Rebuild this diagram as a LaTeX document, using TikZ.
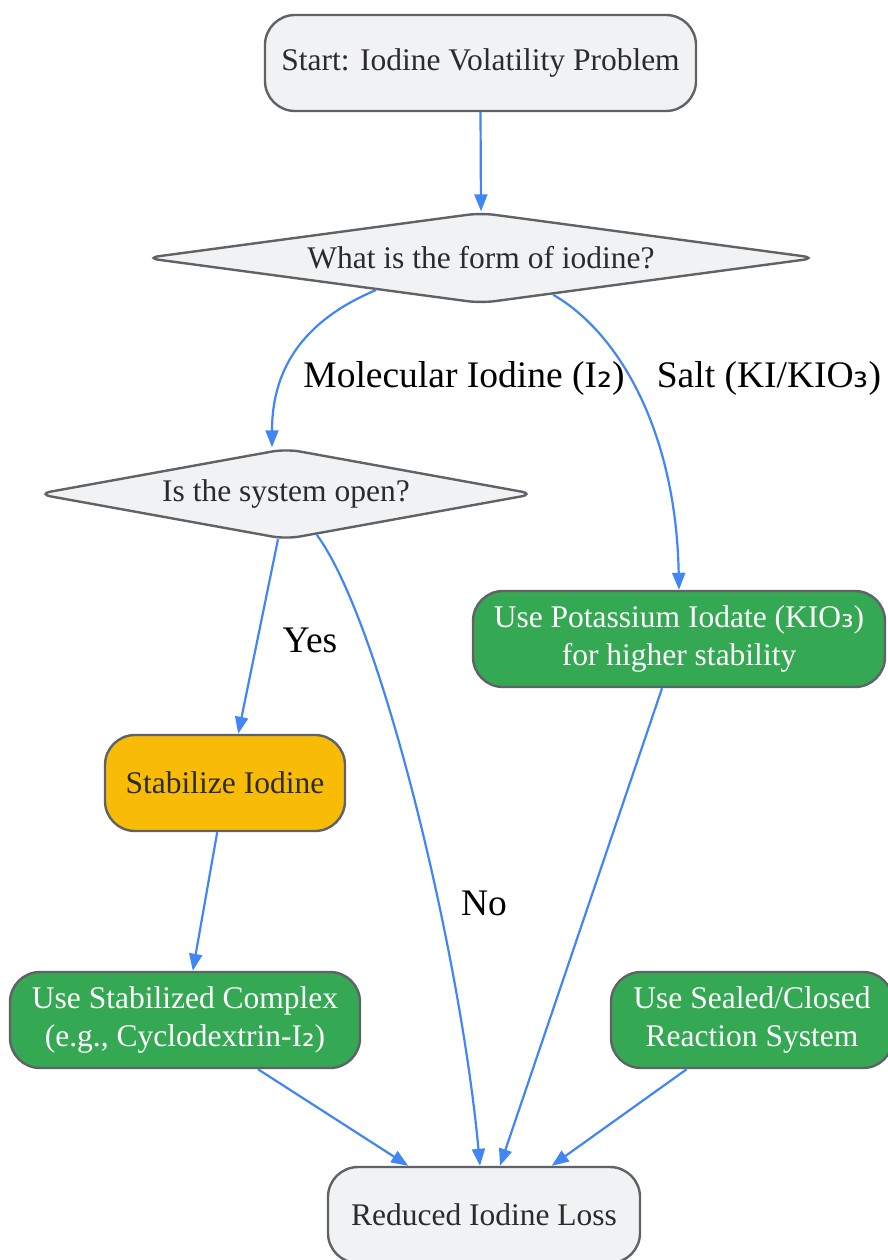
\documentclass[tikz,border=0pt]{standalone}
\usepackage{fontspec}
\setmainfont{Liberation Serif}
\newfontfamily\subfont{DejaVu Sans}
\usetikzlibrary{shapes.geometric,arrows.meta}
\definecolor{flowgray}{HTML}{F1F2F4}
\definecolor{rimgray}{HTML}{5F6368}
\definecolor{okgreen}{HTML}{34A853}
\definecolor{warnyellow}{HTML}{F9BC06}
\definecolor{linkblue}{HTML}{4285F4}
\definecolor{inktext}{HTML}{2B2B2B}
\newcommand{\subd}[1]{{\subfont #1}}

\tikzset{
  box/.style={draw=rimgray, line width=2.4pt, rounded corners=30pt, fill=flowgray, text=inktext,
    font=\fontsize{31.5}{38}\selectfont, align=center, minimum height=96pt, inner sep=0pt},
  okbox/.style={box, fill=okgreen, text=white},
  warnbox/.style={box, fill=warnyellow},
  ask/.style={diamond, draw=rimgray, line width=2.4pt, fill=flowgray, text=inktext,
    font=\fontsize{31.5}{38}\selectfont, rounded corners=14pt, aspect=7, inner sep=0pt},
  link/.style={draw=linkblue, line width=2.2pt, -{Triangle[length=17pt,width=13pt]}},
  lbl/.style={font=\fontsize{37.5}{44}\selectfont, text=black},
}

\begin{document}
\begin{tikzpicture}[x=1pt, y=-1pt]
	\useasboundingbox (0,0) rectangle (888,1260);

	% nodes
	\node[box, minimum width=431pt] (start) at (480.5,63) {Start: Iodine Volatility Problem};
	\node[ask, minimum width=672pt, minimum height=91pt] (form) at (481,258) {What is the form of iodine?};
	\node[ask, minimum width=498pt, minimum height=91pt] (open) at (286,494) {Is the system open?};
	\node[okbox, minimum width=412pt] (iodate) at (679,639) {Use Potassium Iodate (KIO\subd{₃})\\for higher stability};
	\node[warnbox, minimum width=240pt] (stab) at (225,783) {Stabilize Iodine};
	\node[okbox, minimum width=350pt] (cplx) at (185,1020) {Use Stabilized Complex\\(e.g., Cyclodextrin-I\subd{₂})};
	\node[okbox, minimum width=282pt] (sealed) at (752,1020) {Use Sealed/Closed\\Reaction System};
	\node[box, minimum width=312pt] (loss) at (484,1215) {Reduced Iodine Loss};

	% edge labels
	\node[lbl] (lblmol) at (464,378) {Molecular Iodine (I\subd{₂})};
	\node[lbl] (lblsalt) at (769,378) {Salt (KI/KIO\subd{₃})};
	\node[lbl] (lblyes) at (310,640) {Yes};
	\node[lbl] (lblno) at (484,903) {No};

	% connectors
	\draw[link] (start.south) -- (form.north);
	\draw[link] (form.197) .. controls (300,322) and (272,372) .. ([xshift=-14pt]open.north);
	\draw[link] (form.-27) .. controls (618,332) and (676,430) .. (iodate.north);
	\draw[link] (open.-100) -- (stab.75);
	\draw[link] (open.-53) .. controls (380,620) and (460,950) .. ([xshift=-4pt]loss.north);
	\draw[link] (stab.-99) -- (cplx.81);
	\draw[link] (cplx.-34) -- (loss.147);
	\draw[link] (iodate.-109) -- (loss.72);
	\draw[link] (sealed.-143) -- (loss.36);
\end{tikzpicture}
\end{document}
